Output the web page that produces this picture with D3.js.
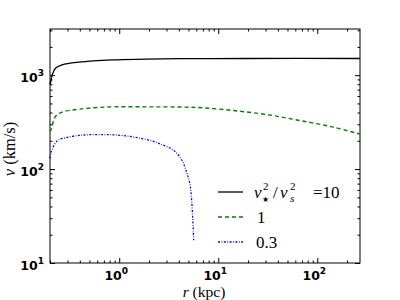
<!DOCTYPE html>
<html>
<head>
<meta charset="utf-8">
<script src="https://cdn.jsdelivr.net/npm/d3@7"></script>
<style>
  body { margin: 0; background: #fff; }
  svg { display: block; }
  .serif { font-family: "Liberation Serif", "DejaVu Serif", "Times New Roman", serif; }
</style>
</head>
<body>
<svg id="chart" width="400" height="300"></svg>
<script>
// data (r in kpc, v in km/s)
var blackR = [0.2, 0.205, 0.21, 0.227, 0.265, 0.39, 0.85, 1.83, 5.8, 20, 270];
var blackV = [790, 880, 1000, 1186, 1288, 1375, 1455, 1480, 1500, 1505, 1505];

var greenR = [0.2, 0.205, 0.227, 0.265, 0.39, 0.72, 1.83, 4.62, 7.06, 14.2, 30.7, 66.5, 144, 270];
var greenV = [250, 262, 363, 404, 434, 457, 460, 457, 449, 420, 381, 329, 280, 236];

var blueR = [0.2, 0.205, 0.223, 0.245, 0.297, 0.39, 0.49, 0.7, 0.85, 1.15, 1.56, 2.13, 2.6, 3.52, 4.28, 4.8, 5.19, 5.4, 5.52, 5.6, 5.65];
var blueV = [130, 150, 184, 205, 217, 228, 232, 233, 232, 226, 215, 200, 185, 159, 125, 92, 68, 45, 30, 22, 17.5];

var legendLabels = ["=10", "1", "0.3"];

var xMajor = [1, 10, 100];
var xMinor = [0.2, 0.3, 0.4, 0.5, 0.6, 0.7, 0.8, 0.9, 2, 3, 4, 5, 6, 7, 8, 9, 20, 30, 40, 50, 60, 70, 80, 90, 200];
var yMajor = [10, 100, 1000];
var yMinor = [20, 30, 40, 50, 60, 70, 80, 90, 200, 300, 400, 500, 600, 700, 800, 900, 2000, 3000];

var L = 50, R = 360, T = 29, B = 263;

var svg = d3.select("#chart");

var x = d3.scaleLog().domain([0.2, 270]).range([L, R]);
var y = d3.scaleLog().domain([10, 3100]).range([B, T]);

// ticks on all four sides, pointing inwards
function tickAxis(axisFn, scale, vals, size, tr) {
  var g = svg.append("g")
    .attr("transform", tr)
    .call(axisFn(scale).tickValues(vals).tickSizeInner(-size).tickSizeOuter(0).tickFormat(""));
  g.select(".domain").remove();
  g.selectAll("line").attr("stroke", "#000").attr("stroke-width", 1);
}
tickAxis(d3.axisBottom, x, xMinor, 2.5, "translate(0," + B + ")");
tickAxis(d3.axisBottom, x, xMajor, 5, "translate(0," + B + ")");
tickAxis(d3.axisTop, x, xMinor, 2.5, "translate(0," + T + ")");
tickAxis(d3.axisTop, x, xMajor, 5, "translate(0," + T + ")");
tickAxis(d3.axisLeft, y, yMinor, 2.5, "translate(" + L + ",0)");
tickAxis(d3.axisLeft, y, yMajor, 5, "translate(" + L + ",0)");
tickAxis(d3.axisRight, y, yMinor, 2.5, "translate(" + R + ",0)");
tickAxis(d3.axisRight, y, yMajor, 5, "translate(" + R + ",0)");

// frame
svg.append("rect")
  .attr("x", L).attr("y", T)
  .attr("width", R - L).attr("height", B - T)
  .attr("fill", "none")
  .attr("stroke", "#000")
  .attr("stroke-width", 1);

// tick labels 10^n
function powLabel(sel) {
  sel.style("font-family", "DejaVu Sans")
    .style("font-size", "12.5px")
    .style("font-weight", "bold")
    .each(function(d) {
      var t = d3.select(this);
      t.append("tspan").text("10");
      t.append("tspan").attr("dy", -6.5).style("font-size", "9px").text(Math.round(Math.log10(d)));
    });
}
svg.selectAll("text.xl")
  .data(xMajor)
  .enter().append("text")
  .attr("class", "xl")
  .attr("x", function(d) { return x(d) - 3; })
  .attr("y", B + 17)
  .attr("text-anchor", "middle")
  .call(powLabel);

svg.selectAll("text.yl")
  .data(yMajor)
  .enter().append("text")
  .attr("class", "yl")
  .attr("x", L - 6)
  .attr("y", function(d) { return y(d) + 7; })
  .attr("text-anchor", "end")
  .call(powLabel);

// axis titles
var xt = svg.append("text")
  .attr("class", "serif")
  .attr("x", 204).attr("y", 297)
  .attr("text-anchor", "middle")
  .style("font-size", "15.5px");
xt.append("tspan").style("font-style", "italic").text("r");
xt.append("tspan").text(" (kpc)");

var yt = svg.append("text")
  .attr("class", "serif")
  .attr("transform", "translate(15,149) rotate(-90)")
  .attr("text-anchor", "middle")
  .style("font-size", "16.5px");
yt.append("tspan").style("font-style", "italic").text("v");
yt.append("tspan").text(" (km/s)");

// curves
var series = [
  { r: blackR, v: blackV, color: "#000000", dash: null, w: 1.3 },
  { r: greenR, v: greenV, color: "#008000", dash: "4,3", w: 1.4 },
  { r: blueR, v: blueV, color: "#0000ff", dash: "2,1.5,0.8,1.5", w: 1.3 }
];

var line = d3.line()
  .x(function(d) { return x(d[0]); })
  .y(function(d) { return y(d[1]); })
  .curve(d3.curveCatmullRom.alpha(0.5));

svg.append("g")
  .selectAll("path")
  .data(series)
  .enter().append("path")
  .attr("d", function(s) { return line(d3.zip(s.r, s.v)); })
  .attr("fill", "none")
  .attr("stroke", function(s) { return s.color; })
  .attr("stroke-width", function(s) { return s.w; })
  .attr("stroke-dasharray", function(s) { return s.dash; });

// legend
var rowY = [192, 217, 242];
var leg = svg.append("g");
leg.selectAll("line")
  .data(series)
  .enter().append("line")
  .attr("x1", 218).attr("x2", 243)
  .attr("y1", function(d, i) { return rowY[i]; })
  .attr("y2", function(d, i) { return rowY[i]; })
  .attr("stroke", function(s) { return s.color; })
  .attr("stroke-width", function(s) { return s.w; })
  .attr("stroke-dasharray", function(s) { return s.dash; });

function legText(xp, yp, txt, size, italic) {
  leg.append("text")
    .attr("class", "serif")
    .attr("x", xp).attr("y", yp)
    .style("font-size", size + "px")
    .style("font-style", italic ? "italic" : "normal")
    .text(txt);
}
// v_star^2 / v_s^2 =10
var b0 = rowY[0] + 5.5;
legText(254, b0, "v", 17, true);
legText(263, b0 - 8, "2", 11, false);
legText(262, b0 + 4, "\u2605", 8, false);
legText(273, b0, "/", 17, false);
legText(280, b0, "v", 17, true);
legText(290, b0 - 8, "2", 11, false);
legText(290, b0 + 4, "s", 11, true);
legText(313, b0, legendLabels[0], 17, false);
legText(257, rowY[1] + 5.5, legendLabels[1], 17, false);
legText(256, rowY[2] + 5.5, legendLabels[2], 17, false);
</script>
</body>
</html>
